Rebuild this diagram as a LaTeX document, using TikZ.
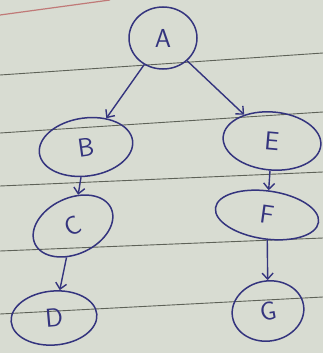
\documentclass[tikz,border=0pt]{standalone}
\usetikzlibrary{shapes.geometric,arrows.meta}
\definecolor{paper}{HTML}{D8DCD2}
\definecolor{rule}{HTML}{5E6258}
\definecolor{redrule}{HTML}{C07A78}
\definecolor{ink}{HTML}{34347E}
\begin{document}
\begin{tikzpicture}[x=1pt,y=-1pt,
  vert/.style={ellipse,draw=ink,line width=1.5pt,text=ink,inner sep=0pt,
    font=\sffamily\fontsize{26}{26}\selectfont},
  edge/.style={draw=ink,line width=1.4pt,-{Straight Barb[length=6pt,width=11pt]}}]
  \fill[paper] (0,0) rectangle (323,353);
  \useasboundingbox (0,0) rectangle (323,353);
  % ruled lines
  \draw[redrule,line width=1.2pt] (0,15) -- (110,0);
  \draw[rule,line width=0.9pt] (0,75) -- (323,53);
  \draw[rule,line width=0.9pt] (0,133) -- (323,112);
  \draw[rule,line width=0.9pt] (0,186) -- (323,172);
  \draw[rule,line width=0.9pt] (0,251) -- (323,238);
  \draw[rule,line width=0.9pt] (0,314) -- (323,297);
  % nodes
  \node[vert,minimum width=68pt,minimum height=62pt] (a) at (163,38) {A};
  \node[vert,minimum width=94pt,minimum height=58pt,rotate=8] (b) at (86,147) {B};
  \node[vert,minimum width=98pt,minimum height=58pt,rotate=-5] (e) at (272,141) {E};
  \node[vert,minimum width=84pt,minimum height=56pt,rotate=25] (c) at (73,226) {C};
  \node[vert,minimum width=104pt,minimum height=48pt,rotate=-8] (f) at (267,215) {F};
  \node[vert,minimum width=86pt,minimum height=54pt,rotate=5] (d) at (54,318) {D};
  \node[vert,minimum width=72pt,minimum height=60pt,rotate=10] (g) at (268,311) {G};
  % edges
  \draw[edge] (a) -- (b);
  \draw[edge] (a) -- (e);
  \draw[edge] (b) -- (c);
  \draw[edge] (c) -- (d);
  \draw[edge] (e) -- (f);
  \draw[edge] (f) -- (g);
\end{tikzpicture}
\end{document}
